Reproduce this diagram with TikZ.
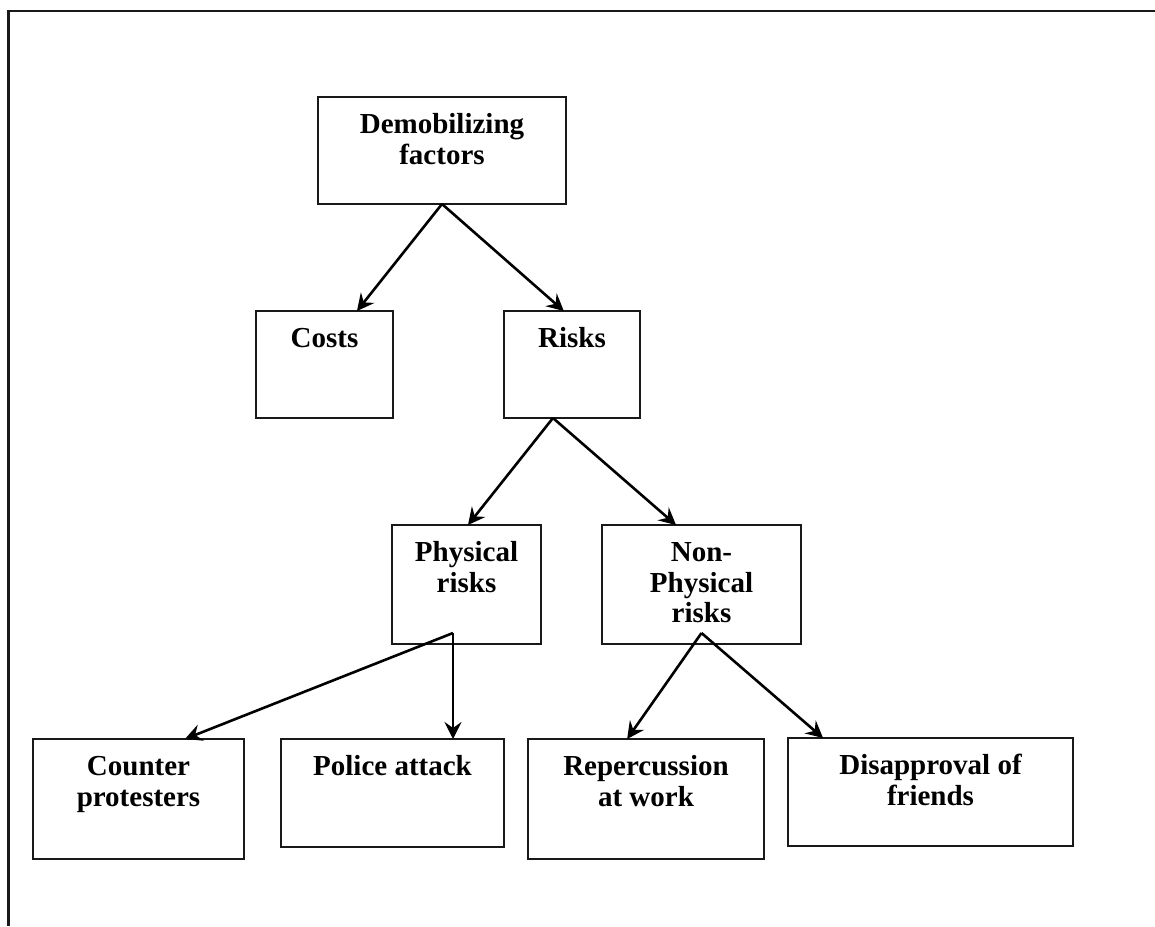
\documentclass[tikz,border=0pt]{standalone}
\usepackage{fontspec}
\setmainfont{Liberation Serif}
\usetikzlibrary{arrows.meta,calc}
\begin{document}
\begin{tikzpicture}[x=1pt,y=-1pt,
  box/.style={draw=black!90,line width=2.4pt,rectangle,inner sep=0pt,outer sep=0pt},
  lbl/.style={anchor=north,align=center,inner sep=0pt,
    font=\fontsize{29}{30.5}\selectfont\bfseries},
  conn/.style={line width=2.6pt,-{Stealth[length=17pt,width=17pt,inset=6pt]}},
  frame/.style={line width=2.8pt,draw=black!90}]
\useasboundingbox (0,0) rectangle (1155,926);
% page frame (top and left edges)
\coordinate (ftl) at (8.5,11);
\coordinate (ftr) at (1155,11);
\coordinate (fbl) at (8.5,926);
\draw[frame] (ftr) -- (ftl) -- (fbl);
% boxes
\node[box,minimum width=248pt,minimum height=107pt] (demob) at (442,150.5) {};
\node[box,minimum width=137pt,minimum height=107pt] (costs) at (324.5,364.5) {};
\node[box,minimum width=136pt,minimum height=107pt] (risks) at (572,364.5) {};
\node[box,minimum width=149pt,minimum height=119pt] (phys) at (466.5,584.5) {};
\node[box,minimum width=199pt,minimum height=119pt] (nonphys) at (701.5,584.5) {};
\node[box,minimum width=211pt,minimum height=120pt] (counter) at (138.5,799) {};
\node[box,minimum width=223pt,minimum height=108pt] (police) at (392.5,793) {};
\node[box,minimum width=236pt,minimum height=120pt] (rep) at (646,799) {};
\node[box,minimum width=285pt,minimum height=108pt] (disp) at (930.5,792) {};
% labels
\node[lbl] (demobT) at ($(demob.north)+(0,15)$) {\strut Demobilizing\\factors};
\node[lbl] (costsT) at ($(costs.north)+(0,15)$) {\strut Costs};
\node[lbl] (risksT) at ($(risks.north)+(0,15)$) {\strut Risks};
\node[lbl] (physT) at ($(phys.north)+(0,15)$) {\strut Physical\\risks};
\node[lbl] (nonphysT) at ($(nonphys.north)+(0,15)$) {\strut Non-\\Physical\\risks};
\node[lbl] (counterT) at ($(counter.north)+(0,15)$) {\strut Counter\\protesters};
\node[lbl] (policeT) at ($(police.north)+(0,15)$) {\strut Police attack};
\node[lbl] (repT) at ($(rep.north)+(0,15)$) {\strut Repercussion\\at work};
\node[lbl] (dispT) at ($(disp.north)+(0,15)$) {\strut Disapproval of\\friends};
% fork points
\coordinate (rfork) at ($(risks.south west)!0.36!(risks.south east)$);
\coordinate (pfork) at (453,633);
\coordinate (nfork) at (701.5,633);
% connectors
\draw[conn] (demob.south) -- ($(costs.north west)!0.737!(costs.north east)$);
\draw[conn] (demob.south) -- ($(risks.north west)!0.44!(risks.north east)$);
\draw[conn] (rfork) -- ($(phys.north west)!0.51!(phys.north east)$);
\draw[conn] (rfork) -- ($(nonphys.north west)!0.372!(nonphys.north east)$);
\draw[conn] (pfork) -- ($(counter.north west)!0.72!(counter.north east)$);
\draw[conn] (pfork) -- (pfork |- police.north);
\draw[conn] (nfork) -- ($(rep.north west)!0.42!(rep.north east)$);
\draw[conn] (nfork) -- ($(disp.north west)!0.123!(disp.north east)$);
\end{tikzpicture}
\end{document}
